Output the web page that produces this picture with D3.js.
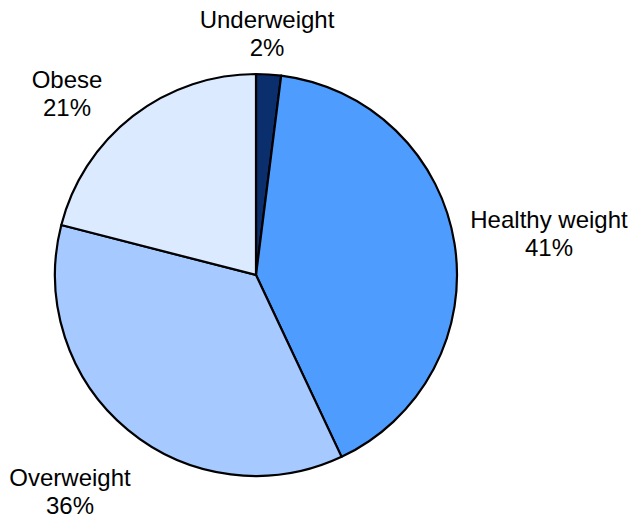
<!DOCTYPE html>
<html>
<head>
<meta charset="utf-8">
<script src="https://cdn.jsdelivr.net/npm/d3@7"></script>
<style>
  html, body { margin: 0; padding: 0; background: #fff; }
  svg { display: block; }
  text { font-family: "Liberation Sans", Arial, sans-serif; font-size: 24px; fill: #000; }
</style>
</head>
<body>
<svg id="chart" width="631" height="520"></svg>
<script>
const categories = ["Underweight", "Healthy weight", "Overweight", "Obese"];
const values = [2, 41, 36, 21];
const colors = ["#0b2e6d", "#4f9cff", "#a6caff", "#dceaff"];
const labelPos = [[267, 28], [549, 228], [70, 486], [67, 88]];

const svg = d3.select("#chart");
const cx = 256, cy = 275, r = 201;

const pie = d3.pie().sort(null).value(d => d.v);
const data = categories.map((c, i) => ({ c, v: values[i], col: colors[i], i }));
const arcs = pie(data);
const arc = d3.arc().innerRadius(0).outerRadius(r);

const g = svg.append("g").attr("transform", `translate(${cx},${cy})`);
g.selectAll("path").data(arcs).enter().append("path")
  .attr("d", arc)
  .attr("fill", d => d.data.col)
  .attr("stroke", "#000")
  .attr("stroke-width", 2.2)
  .attr("stroke-linejoin", "round");

const lab = svg.selectAll("text.lab").data(arcs).enter().append("text")
  .attr("class", "lab")
  .attr("text-anchor", "middle");
lab.append("tspan")
  .attr("x", d => labelPos[d.data.i][0])
  .attr("y", d => labelPos[d.data.i][1])
  .text(d => d.data.c);
lab.append("tspan")
  .attr("x", d => labelPos[d.data.i][0])
  .attr("y", d => labelPos[d.data.i][1] + 28)
  .text(d => d.data.v + "%");
</script>
</body>
</html>
